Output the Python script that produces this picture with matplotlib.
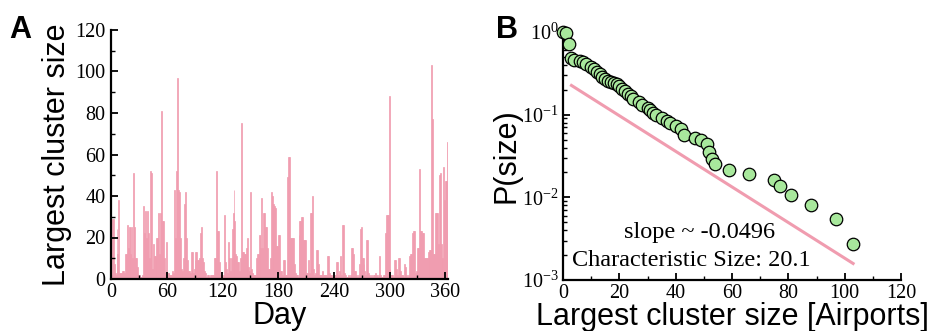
import matplotlib
matplotlib.use("Agg")
import matplotlib.pyplot as plt
import numpy as np
from matplotlib.ticker import MultipleLocator, LogLocator, NullFormatter

# Panel A: largest cluster size per day (days 0..362)
daily_size = [
    2, 29, 29, 7, 3, 2, 24, 12, 38, 3,
    3, 3, 4, 4, 3, 12, 12, 26, 15, 25,
    25, 12, 25, 10, 51, 25, 10, 10, 6, 2,
    2, 1, 1, 2, 1, 35, 22, 33, 20, 33,
    22, 10, 52, 51, 5, 17, 11, 11, 10, 20,
    20, 32, 12, 32, 81, 28, 28, 10, 3, 18,
    3, 3, 3, 2, 2, 2, 4, 3, 43, 20,
    52, 97, 43, 42, 20, 5, 3, 4, 10, 36,
    42, 20, 9, 4, 4, 3, 13, 13, 3, 5,
    9, 13, 13, 9, 9, 10, 22, 25, 10, 8,
    4, 3, 1, 2, 2, 2, 1, 2, 2, 2,
    2, 10, 10, 52, 23, 23, 8, 2, 1, 2,
    1, 2, 31, 8, 5, 3, 18, 10, 4, 10,
    24, 32, 43, 28, 12, 11, 8, 8, 4, 10,
    75, 13, 13, 12, 12, 15, 15, 20, 6, 4,
    42, 5, 3, 2, 2, 2, 10, 12, 12, 21,
    21, 15, 39, 15, 32, 32, 25, 25, 15, 5,
    5, 10, 42, 40, 36, 36, 35, 34, 16, 16,
    21, 21, 4, 4, 2, 9, 9, 2, 2, 2,
    49, 59, 59, 20, 20, 20, 20, 7, 3, 2,
    2, 1, 21, 28, 28, 30, 30, 19, 19, 19,
    3, 3, 9, 3, 32, 32, 32, 40, 5, 2,
    3, 14, 14, 7, 2, 2, 2, 4, 2, 2,
    2, 2, 2, 11, 11, 3, 2, 2, 1, 1,
    2, 2, 8, 8, 1, 2, 4, 11, 2, 26,
    26, 3, 2, 1, 1, 2, 1, 2, 2, 15,
    15, 12, 4, 4, 2, 1, 2, 7, 24, 25,
    10, 10, 7, 4, 2, 19, 19, 3, 2, 1,
    2, 1, 2, 2, 3, 2, 2, 1, 2, 11,
    2, 1, 1, 2, 2, 22, 31, 31, 31, 88,
    5, 2, 2, 2, 1, 9, 9, 5, 2, 10,
    10, 4, 2, 2, 2, 1, 7, 6, 2, 1,
    2, 11, 12, 12, 22, 23, 23, 3, 2, 4,
    15, 15, 53, 23, 23, 22, 22, 10, 10, 10,
    10, 13, 13, 14, 14, 103, 77, 12, 12, 32,
    32, 32, 17, 50, 51, 17, 10, 10, 54, 38,
    47, 47, 66,
]
days = np.arange(len(daily_size))

# Panel B: cumulative distribution of the largest cluster size
cluster_size = [0, 1, 2, 3, 4, 6, 7, 8, 10, 11, 12, 13, 14, 15, 16, 17, 18,
                19, 20, 21, 22, 23, 24, 25, 27, 28, 30, 31, 32, 33, 35, 37,
                38, 40, 42, 43, 47, 49, 51, 52, 53, 54, 59, 66, 75, 77, 81,
                88, 97, 103]
p_size = [1.0, 0.97, 0.72, 0.49, 0.46, 0.44, 0.43, 0.41, 0.38, 0.36, 0.33,
          0.31, 0.286, 0.27, 0.255, 0.246, 0.239, 0.233, 0.22, 0.206, 0.193,
          0.18, 0.17, 0.156, 0.142, 0.13, 0.122, 0.113, 0.106, 0.098, 0.092,
          0.085, 0.079, 0.072, 0.068, 0.056, 0.052, 0.049, 0.0446, 0.0353,
          0.0294, 0.0251, 0.0212, 0.019, 0.0161, 0.0136, 0.0108, 0.0080,
          0.0054, 0.0027]
fit_slope = -0.0496
fit_amp = 0.262
fit_range = [3, 103]

pink = "#f09caf"
green = "#a8e89c"

plt.rcParams["font.family"] = "Liberation Serif"
plt.rcParams["mathtext.fontset"] = "stix"

fig = plt.figure(figsize=(9.32, 3.31), dpi=100)
axA = fig.add_axes([111 / 932, 52 / 331, 337 / 932, 249 / 331])
axB = fig.add_axes([563 / 932, 51 / 331, 338 / 932, 248 / 331])

for ax in (axA, axB):
    ax.spines["top"].set_visible(False)
    ax.spines["right"].set_visible(False)
    ax.spines["left"].set_linewidth(1.6)
    ax.spines["bottom"].set_linewidth(1.6)
    ax.tick_params(which="major", direction="in", length=5, width=1.3,
                   labelsize=14.5, pad=3)
    ax.tick_params(which="minor", direction="in", length=3, width=1.0)
axA.tick_params(axis="y", pad=4)

# ---- A
axA.bar(days, daily_size, width=1.0, align="edge", color=pink,
        edgecolor=pink, linewidth=0.5)
axA.set_xlim(0, 363)
axA.set_ylim(0, 120)
axA.xaxis.set_major_locator(MultipleLocator(60))
axA.xaxis.set_minor_locator(MultipleLocator(30))
axA.yaxis.set_major_locator(MultipleLocator(20))
axA.yaxis.set_minor_locator(MultipleLocator(10))
axA.set_xlabel("Day", family="Liberation Sans", fontsize=22, labelpad=-1)
axA.set_ylabel("Largest cluster size", family="Liberation Sans", fontsize=22,
               labelpad=2)

# ---- B
axB.semilogy(cluster_size, p_size, "o", ms=9, mfc=green, mec="black",
             mew=0.9, clip_on=False, zorder=3)
fx = np.array(fit_range, dtype=float)
axB.plot(fx, fit_amp * np.exp(fit_slope * fx), color=pink, lw=2.2, zorder=2)
axB.set_xlim(0, 120)
axB.set_ylim(1e-3, 1)
axB.xaxis.set_major_locator(MultipleLocator(20))
axB.xaxis.set_minor_locator(MultipleLocator(10))
axB.yaxis.set_major_locator(LogLocator(base=10, numticks=10))
axB.yaxis.set_minor_locator(LogLocator(base=10, subs=np.arange(2, 10), numticks=10))
axB.yaxis.set_minor_formatter(NullFormatter())
axB.set_xlabel("Largest cluster size [Airports]", family="Liberation Sans",
               fontsize=22, labelpad=-1)
axB.set_ylabel("P(size)", family="Liberation Sans", fontsize=22, labelpad=0)
axB.text(0.405, 0.19, "slope ~ -0.0496", transform=axB.transAxes,
         ha="center", va="center", fontsize=17.5)
axB.text(0.38, 0.08, "Characteristic Size: 20.1", transform=axB.transAxes,
         ha="center", va="center", fontsize=17.5)

fig.text(0.010, 0.955, "A", family="Liberation Sans", fontsize=22,
         fontweight="bold", va="top")
fig.text(0.532, 0.955, "B", family="Liberation Sans", fontsize=22,
         fontweight="bold", va="top")

fig.savefig("out.png", dpi=100)
